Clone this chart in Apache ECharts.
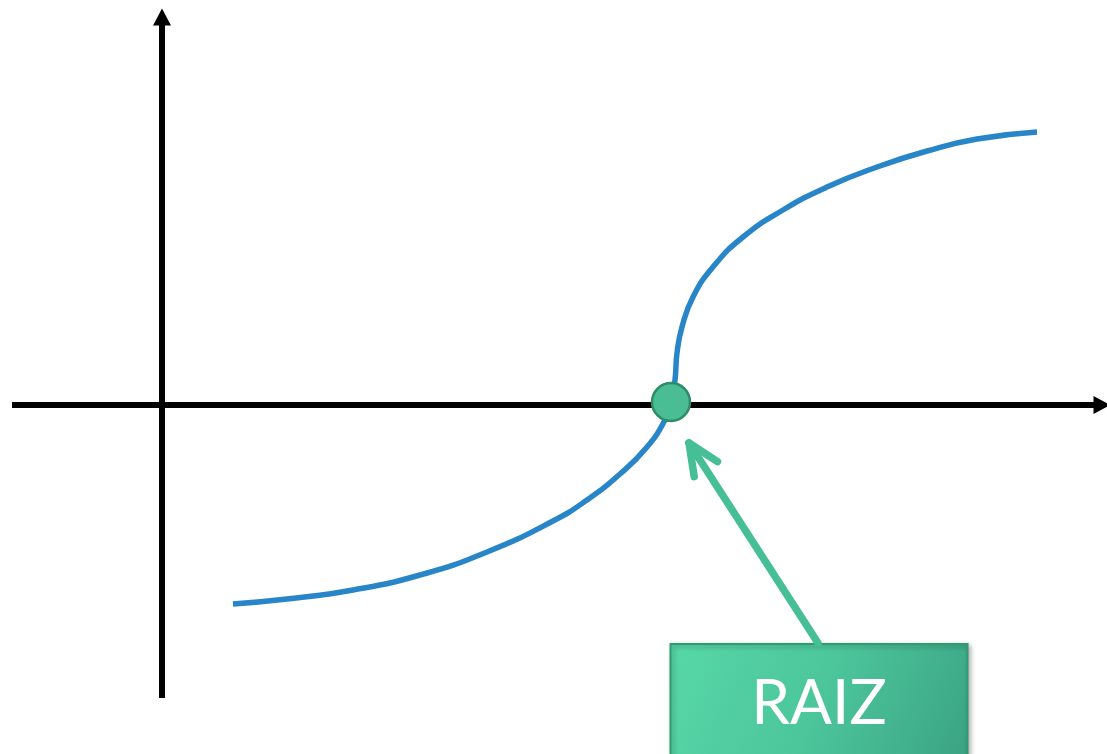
<!DOCTYPE html>
<html>
<head>
<meta charset="utf-8">
<script src="https://cdn.jsdelivr.net/npm/echarts@6/dist/echarts.min.js"></script>
<style>
html, body { margin: 0; padding: 0; background: #fff; }
#main { width: 1107px; height: 754px; }
</style>
</head>
<body>
<div id="main"></div>
<script>
// curva f(x) (x, y)
var curveX = [0.71, 1.25, 1.91, 2.58, 3.25, 3.91, 4.25, 4.58, 4.85, 5.03, 5.09,
              5.13, 5.15, 5.20, 5.31, 5.51, 5.81, 6.21, 6.65, 7.15, 7.65, 8.15, 8.75];
var curveY = [-1.99, -1.94, -1.85, -1.70, -1.47, -1.16, -0.95, -0.69, -0.42, -0.15, 0.02,
              0.25, 0.52, 0.78, 1.08, 1.38, 1.68, 1.95, 2.18, 2.38, 2.54, 2.66, 2.73];
// raiz
var rootPoint = [5.09, 0.03];
// seta: cauda (topo da caixa) -> ponta
var arrowTail = [6.56, -2.38];
var arrowTip = [5.27, -0.38];
var labelText = 'RAIZ';

var myChart = echarts.init(document.getElementById('main'));

var curveData = [];
curveX.forEach(function (x, i) {
    curveData.push([x, curveY[i]]);
});

var axisCommon = {
    type: 'value',
    axisLine: {
        show: true,
        onZero: true,
        symbol: ['none', 'triangle'],
        symbolSize: [18, 17],
        lineStyle: { color: '#000', width: 6, cap: 'butt' }
    },
    axisTick: { show: false },
    axisLabel: { show: false },
    splitLine: { show: false }
};

var option = {
    animation: false,
    backgroundColor: '#fff',
    grid: { left: 12, right: 5, top: 17, bottom: 56 },
    xAxis: echarts.util.merge({ min: -1.5, max: 9.4 }, axisCommon),
    yAxis: echarts.util.merge({ min: -2.93, max: 3.88 }, axisCommon),
    series: [{
        name: 'f(x)',
        type: 'line',
        data: curveData,
        smooth: 0.5,
        symbol: 'none',
        lineStyle: { color: '#2886C8', width: 5.5, cap: 'butt' },
        z: 3
    }, {
        name: 'seta',
        type: 'custom',
        data: [[arrowTail[0], arrowTail[1], arrowTip[0], arrowTip[1]]],
        renderItem: function (params, api) {
            var p0 = api.coord([api.value(0), api.value(1)]);
            var p1 = api.coord([api.value(2), api.value(3)]);
            var dx = p0[0] - p1[0], dy = p0[1] - p1[1];
            var len = Math.sqrt(dx * dx + dy * dy);
            dx /= len; dy /= len;
            var a = 24 * Math.PI / 180, L = 34;
            function rot(s) {
                var c = Math.cos(s * a), n = Math.sin(s * a);
                return [p1[0] + L * (dx * c - dy * n), p1[1] + L * (dx * n + dy * c)];
            }
            var style = { stroke: '#46BE96', lineWidth: 7.5, lineCap: 'round', lineJoin: 'round', fill: null };
            return {
                type: 'group',
                children: [{
                    type: 'polyline',
                    shape: { points: [p0, p1] },
                    style: style
                }, {
                    type: 'polyline',
                    shape: { points: [rot(1), p1, rot(-1)] },
                    style: style
                }]
            };
        },
        z: 4
    }, {
        name: 'raiz',
        type: 'scatter',
        data: [rootPoint],
        symbolSize: 38,
        itemStyle: { color: '#4ABD94', borderColor: '#2E8C66', borderWidth: 2.5, opacity: 1 },
        z: 5
    }]
};
myChart.setOption(option);

// caixa do rótulo presa ao topo da seta
var anchor = myChart.convertToPixel({ gridIndex: 0 }, arrowTail);
var boxW = 297, boxH = 125;
myChart.setOption({
    graphic: [{
        type: 'group',
        left: anchor[0] - boxW / 2,
        top: anchor[1],
        z: 10,
        children: [{
            type: 'rect',
            shape: { x: 0, y: 0, width: boxW, height: boxH },
            style: {
                fill: new echarts.graphic.LinearGradient(0, 0, 1, 1, [
                    { offset: 0, color: '#57D8A8' },
                    { offset: 0.5, color: '#4CC59B' },
                    { offset: 1, color: '#3AA282' }
                ]),
                stroke: '#2F9B73',
                lineWidth: 2,
                shadowBlur: 5,
                shadowOffsetX: 2,
                shadowOffsetY: 2,
                shadowColor: 'rgba(0,0,0,0.3)'
            }
        }, {
            type: 'text',
            style: {
                text: labelText,
                x: boxW / 2,
                y: 60,
                align: 'center',
                verticalAlign: 'middle',
                fill: '#fff',
                font: '62px Lato'
            }
        }]
    }]
});
</script>
</body>
</html>
